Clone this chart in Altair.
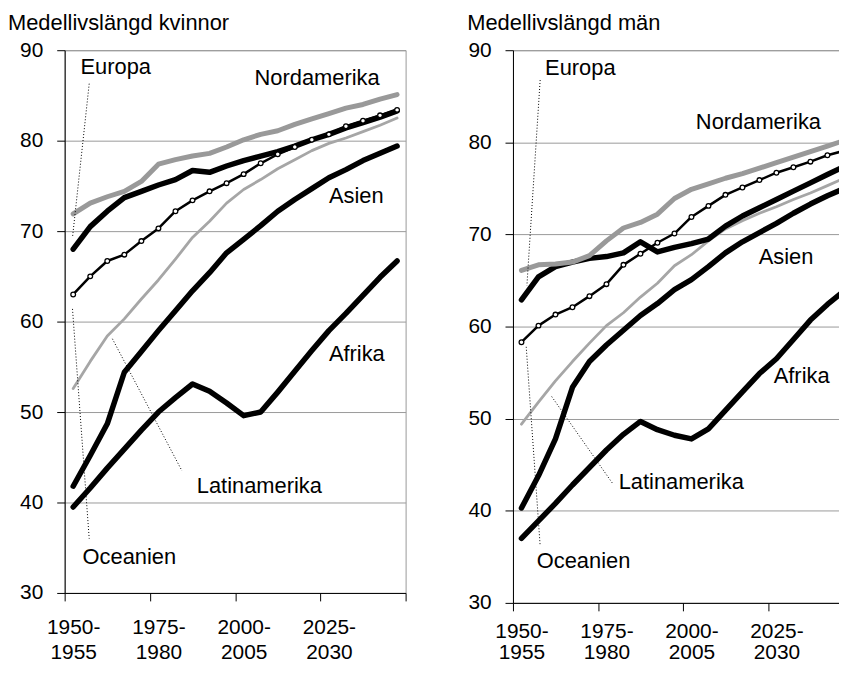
import altair as alt
import pandas as pd

F = "Liberation Sans"

periods = ["1950-1955", "1955-1960", "1960-1965", "1965-1970", "1970-1975",
           "1975-1980", "1980-1985", "1985-1990", "1990-1995", "1995-2000",
           "2000-2005", "2005-2010", "2010-2015", "2015-2020", "2020-2025",
           "2025-2030", "2030-2035", "2035-2040", "2040-2045", "2045-2050"]
x_index = list(range(len(periods)))
label_positions = [0, 5, 10, 15]

# Medellivslängd kvinnor
w_europa = [68.0, 70.5, 72.2, 73.7, 74.4, 75.1, 75.7, 76.7, 76.5, 77.2,
            77.8, 78.3, 78.8, 79.4, 80.1, 80.7, 81.4, 82.0, 82.6, 83.3]
w_nordamerika = [71.9, 73.1, 73.8, 74.4, 75.5, 77.4, 77.9, 78.3, 78.6, 79.3,
                 80.1, 80.7, 81.1, 81.8, 82.4, 83.0, 83.6, 84.0, 84.6, 85.1]
w_oceanien = [63.0, 65.0, 66.7, 67.4, 68.9, 70.3, 72.2, 73.4, 74.4, 75.3,
              76.3, 77.5, 78.5, 79.3, 80.1, 80.7, 81.6, 82.2, 82.8, 83.4]
w_latinamerika = [52.6, 55.6, 58.4, 60.3, 62.5, 64.6, 66.9, 69.3, 71.1, 73.1,
                  74.6, 75.7, 76.9, 77.9, 78.9, 79.7, 80.3, 81.0, 81.7, 82.5]
w_asien = [41.8, 45.2, 48.7, 54.4, 56.7, 59.0, 61.2, 63.4, 65.4, 67.6,
           69.1, 70.6, 72.2, 73.5, 74.7, 75.9, 76.8, 77.8, 78.6, 79.4]
w_afrika = [39.5, 41.6, 43.8, 45.9, 48.0, 50.0, 51.6, 53.1, 52.3, 51.0,
            49.6, 50.0, 52.2, 54.5, 56.8, 59.0, 60.9, 62.9, 64.9, 66.7]

# Medellivslängd män
m_europa = [62.9, 65.4, 66.5, 67.0, 67.4, 67.6, 68.0, 69.2, 68.1, 68.6,
            69.0, 69.5, 70.9, 72.0, 72.9, 73.8, 74.7, 75.6, 76.5, 77.4]
m_nordamerika = [66.1, 66.7, 66.8, 67.0, 67.7, 69.3, 70.7, 71.3, 72.2, 73.9,
                 74.9, 75.5, 76.1, 76.6, 77.2, 77.8, 78.4, 79.0, 79.6, 80.2]
m_oceanien = [58.3, 60.1, 61.3, 62.1, 63.3, 64.6, 66.7, 67.9, 69.1, 70.1,
              71.9, 73.1, 74.3, 75.1, 75.9, 76.7, 77.3, 77.9, 78.6, 79.1]
m_latinamerika = [49.4, 51.8, 54.1, 56.2, 58.2, 60.1, 61.5, 63.2, 64.7, 66.6,
                  67.8, 69.3, 70.6, 71.5, 72.3, 73.0, 73.8, 74.5, 75.3, 76.1]
m_asien = [40.3, 43.8, 47.8, 53.4, 56.2, 58.0, 59.6, 61.2, 62.5, 64.0,
           65.1, 66.5, 68.0, 69.2, 70.2, 71.2, 72.3, 73.3, 74.2, 75.0]
m_afrika = [37.0, 38.9, 40.8, 42.8, 44.7, 46.6, 48.3, 49.7, 48.8, 48.2,
            47.8, 48.9, 50.9, 52.9, 54.9, 56.5, 58.6, 60.7, 62.4, 63.9]

# annotation labels (x in period index, y in years at text baseline)
label_names = ["Europa", "Nordamerika", "Asien", "Afrika", "Latinamerika", "Oceanien"]
w_label_x = [0.43, 10.64, 15.0, 15.0, 7.25, 0.55]
w_label_y = [87.4, 86.15, 73.1, 55.6, 41.1, 33.2]
m_label_x = [1.39, 10.26, 13.96, 14.84, 5.72, 0.9]
m_label_y = [87.3, 81.43, 66.8, 53.9, 42.4, 33.77]

# dotted leader lines
w_lead_x = [0.94, 2.3, -0.04]
w_lead_y = [86.3, 58.1, 61.4]
w_lead_x2 = [-0.04, 6.38, 0.94]
w_lead_y2 = [69.3, 43.5, 36.0]
m_lead_x = [1.1, 1.78, 0.28]
m_lead_y = [86.76, 52.4, 57.8]
m_lead_x2 = [0.32, 5.35, 1.1]
m_lead_y2 = [64.44, 43.0, 36.2]

y_ticks = [30, 40, 50, 60, 70, 80, 90]

women = {"Europa": w_europa, "Nordamerika": w_nordamerika, "Oceanien": w_oceanien,
         "Latinamerika": w_latinamerika, "Asien": w_asien, "Afrika": w_afrika}
men = {"Europa": m_europa, "Nordamerika": m_nordamerika, "Oceanien": m_oceanien,
       "Latinamerika": m_latinamerika, "Asien": m_asien, "Afrika": m_afrika}

order = ["Afrika", "Asien", "Latinamerika", "Europa", "Nordamerika", "Oceanien"]
style = {"Afrika": ("black", 5.5), "Asien": ("black", 5.5), "Europa": ("black", 5.5),
         "Nordamerika": ("#999999", 5), "Latinamerika": ("#a6a6a6", 2.8),
         "Oceanien": ("black", 2.5)}

x_ticks = [p - 0.5 for p in label_positions] + [len(periods) - 0.5]
expr = ""
for p in label_positions:
    a, b = periods[p].split("-")
    expr += f"datum.value == {p - 0.5} ? ['{a}-', '{b}'] : "
expr += "''"


def panel(data, lx, ly, ldx, ldy, ldx2, ldy2, width, height, title, dx, lpad, lheight):
    xaxis = alt.Axis(values=x_ticks, grid=False, tickSize=8, labelOffset=width / 40,
                     labelExpr=expr, labelLineHeight=lheight, labelPadding=lpad,
                     labelFlush=False, labelOverlap=False, labelBound=False, title=None)
    yaxis = alt.Axis(values=y_ticks, grid=True, gridColor="#999999", gridWidth=1,
                     tickSize=8, labelPadding=14, title=None)
    xs = alt.X("x:Q", scale=alt.Scale(domain=[-0.5, len(periods) - 0.5], nice=False, zero=False), axis=xaxis)
    ys = alt.Y("y:Q", scale=alt.Scale(domain=[30, 90], nice=False, zero=False), axis=yaxis)
    layers = []
    for name in order:
        color, w = style[name]
        df = pd.DataFrame({"x": x_index, "y": data[name]})
        layers.append(alt.Chart(df).mark_line(color=color, strokeWidth=w, strokeCap="round",
                                              strokeJoin="round").encode(x=xs, y=ys))
    dfo = pd.DataFrame({"x": x_index, "y": data["Oceanien"]})
    layers.append(alt.Chart(dfo).mark_point(shape="circle", filled=True, fill="white", stroke="black",
                                            strokeWidth=1.3, size=22, opacity=1).encode(x=xs, y=ys))
    dfl = pd.DataFrame({"x": ldx, "y": ldy, "x2": ldx2, "y2": ldy2})
    layers.append(alt.Chart(dfl).mark_rule(color="black", strokeWidth=1, strokeDash=[1, 2]).encode(
        x=xs, y=ys, x2="x2:Q", y2="y2:Q"))
    dft = pd.DataFrame({"x": lx, "y": ly, "text": label_names})
    layers.append(alt.Chart(dft).mark_text(align="left", baseline="alphabetic", fontSize=22, font=F,
                                           color="black").encode(x=xs, y=ys, text="text:N"))
    return alt.layer(*layers).properties(
        width=width, height=height,
        title=alt.TitleParams(text=title, anchor="start", frame="group", dx=dx, offset=4, fontSize=22,
                              font=F, fontWeight="normal", color="black"))


left = panel(women, w_label_x, w_label_y, w_lead_x, w_lead_y, w_lead_x2, w_lead_y2,
             343, 546, "Medellivslängd kvinnor", -57, 16, 25)
right = panel(men, m_label_x, m_label_y, m_lead_x, m_lead_y, m_lead_x2, m_lead_y2,
              342, 556, "Medellivslängd män", -46, 10, 21)

chart = alt.hconcat(left, right, spacing=51).properties(
    padding={"left": -1, "top": 1.5, "right": -24, "bottom": -2}
).configure_view(stroke="#999999", strokeWidth=1).configure_axis(
    labelFont=F, labelFontSize=21, labelColor="black", domainColor="black", tickColor="black",
    domainWidth=1, tickWidth=1)

chart.save("out.html", embed_options={"renderer": "svg", "actions": False})
